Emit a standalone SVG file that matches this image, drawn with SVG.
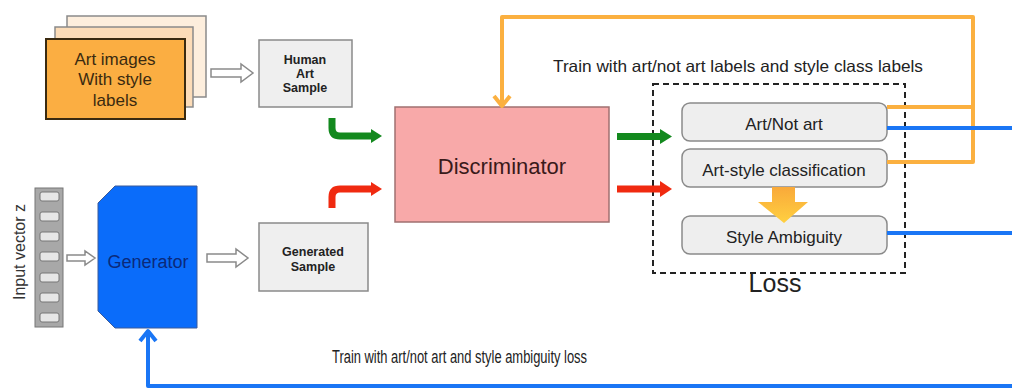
<svg xmlns="http://www.w3.org/2000/svg" width="1012" height="390" viewBox="0 0 1012 390">
<defs>
<linearGradient id="og" x1="0" y1="0" x2="0" y2="1">
<stop offset="0" stop-color="#f9a93a"/>
<stop offset="1" stop-color="#ffd040"/>
</linearGradient>
</defs>
<style>
text{font-family:"Liberation Sans",Arial,sans-serif;fill:#222}
.sample{fill:#efefef;stroke:#8a8a8a;stroke-width:1.5}
.sampletxt{font-size:12.5px;font-weight:bold;text-anchor:middle;fill:#222}
.loss{fill:#eeeeee;stroke:#8a8a8a;stroke-width:1.5}
.losstxt{font-size:17px;text-anchor:middle;fill:#222}
.hollow{fill:#fff;stroke:#8a8a8a;stroke-width:1.5;stroke-linejoin:miter}
.slot{fill:#e6e6e6;stroke:#777;stroke-width:1}
.orange{fill:none;stroke:#fbb040;stroke-width:4;stroke-linejoin:round}
.blue{fill:none;stroke:#1a76f5;stroke-width:4;stroke-linejoin:round}
</style>
<rect x="0" y="0" width="1012" height="390" fill="#ffffff"/>

<g id="art-images">
<rect x="67" y="16" width="139" height="81" fill="#fdeedd" stroke="#8a8a8a" stroke-width="1.5"/>
<rect x="55" y="27" width="138" height="80" fill="#fcdcb8" stroke="#8a8a8a" stroke-width="1.5"/>
<rect x="46" y="39" width="139" height="80" fill="#fbae42" stroke="#3a2a10" stroke-width="2"/>
<text x="115" y="65" font-size="17" text-anchor="middle" style="fill:#3a2a10">Art images</text>
<text x="115" y="85" font-size="17" text-anchor="middle" style="fill:#3a2a10">With style</text>
<text x="115" y="106" font-size="17" text-anchor="middle" style="fill:#3a2a10">labels</text>
</g>

<g id="human-art-sample">
<rect class="sample" x="259" y="40" width="93" height="67"/>
<text class="sampletxt" x="305" y="64">Human</text>
<text class="sampletxt" x="305" y="78">Art</text>
<text class="sampletxt" x="305" y="92">Sample</text>
</g>

<g id="input-vector">
<rect x="35" y="188" width="28" height="139" fill="#a8a8a8" stroke="#777" stroke-width="1"/>
<rect class="slot" x="40" y="192" width="19" height="9" rx="2"/>
<rect class="slot" x="40" y="212" width="19" height="9" rx="2"/>
<rect class="slot" x="40" y="232" width="19" height="9" rx="2"/>
<rect class="slot" x="40" y="252" width="19" height="9" rx="2"/>
<rect class="slot" x="40" y="273" width="19" height="9" rx="2"/>
<rect class="slot" x="40" y="293" width="19" height="9" rx="2"/>
<rect class="slot" x="40" y="313" width="19" height="9" rx="2"/>
<text x="0" y="0" font-size="16" text-anchor="middle" transform="translate(25,252) rotate(-90)" style="fill:#333">Input vector z</text>
</g>

<g id="generator">
<polygon points="115,186 197,186 197,328 115,328 98,311 98,203" fill="#0a6cfa" stroke="#3a5a9a" stroke-width="1"/>
<text x="148" y="268" font-size="18" text-anchor="middle" style="fill:#0b2a7a">Generator</text>
</g>

<g id="generated-sample">
<rect class="sample" x="259" y="223" width="109" height="68"/>
<text class="sampletxt" x="313" y="256">Generated</text>
<text class="sampletxt" x="313" y="271">Sample</text>
</g>

<g id="discriminator">
<rect x="395" y="107" width="214" height="115" fill="#f8a9a9" stroke="#a07070" stroke-width="1.5"/>
<text x="502" y="174" font-size="22" text-anchor="middle" style="fill:#3a1a1a">Discriminator</text>
</g>

<g id="loss">
<rect x="653" y="84" width="252" height="189" fill="none" stroke="#222" stroke-width="2" stroke-dasharray="6,4"/>
<text x="775" y="292" font-size="25" text-anchor="middle" style="fill:#222">Loss</text>
</g>

<g id="art-not-art">
<rect class="loss" x="682" y="103" width="205" height="38" rx="8"/>
<text class="losstxt" x="784" y="130">Art/Not art</text>
</g>

<g id="art-style-classification">
<rect class="loss" x="682" y="149" width="205" height="38" rx="8"/>
<text class="losstxt" x="784" y="176">Art-style classification</text>
</g>

<g id="style-ambiguity">
<rect class="loss" x="682" y="216" width="205" height="38" rx="8"/>
<text class="losstxt" x="784" y="243">Style Ambiguity</text>
</g>

<g id="labels">
<text x="553" y="72" font-size="16.5" textLength="370" lengthAdjust="spacingAndGlyphs">Train with art/not art labels and style class labels</text>
<text x="332" y="363" font-size="17.5" textLength="255" lengthAdjust="spacingAndGlyphs">Train with art/not art and style ambiguity loss</text>
</g>

<g id="connectors">
<polygon class="hollow" points="211,69 241,69 241,64 253,73 241,82 241,77 211,77"/>
<polygon class="hollow" points="67,255 85,255 85,251 95,258 85,265 85,261 67,261"/>
<polygon class="hollow" points="207,254 236,254 236,249 248,258 236,267 236,262 207,262"/>

<path d="M332,118 V128 Q332,136 340,136 H372" fill="none" stroke="#13891e" stroke-width="7"/>
<polygon points="371,129 382,136 371,143" fill="#13891e"/>
<path d="M332,208 V197 Q332,189 340,189 H372" fill="none" stroke="#f02a10" stroke-width="7"/>
<polygon points="371,182 382,189 371,196" fill="#f02a10"/>

<rect x="617" y="133" width="44" height="7" fill="#13891e"/>
<polygon points="660,129 672,136.5 660,144" fill="#13891e"/>
<rect x="617" y="185.5" width="44" height="7" fill="#f02a10"/>
<polygon points="660,181 672,189 660,197" fill="#f02a10"/>

<path class="orange" d="M887,107 H973"/>
<path class="orange" d="M887,162 H973 V17 H502 V104"/>
<polyline class="orange" points="494,96 502,106 510,96"/>

<polygon points="772,187 795,187 795,202 808,202 784,223 758,202 772,202" fill="url(#og)"/>

<path class="blue" d="M887,128 H1012"/>
<path class="blue" d="M887,233 H1012"/>
<path class="blue" d="M1012,386 H148 V331"/>
<polyline class="blue" points="140,341 148,331 156,341"/>
</g>
</svg>
